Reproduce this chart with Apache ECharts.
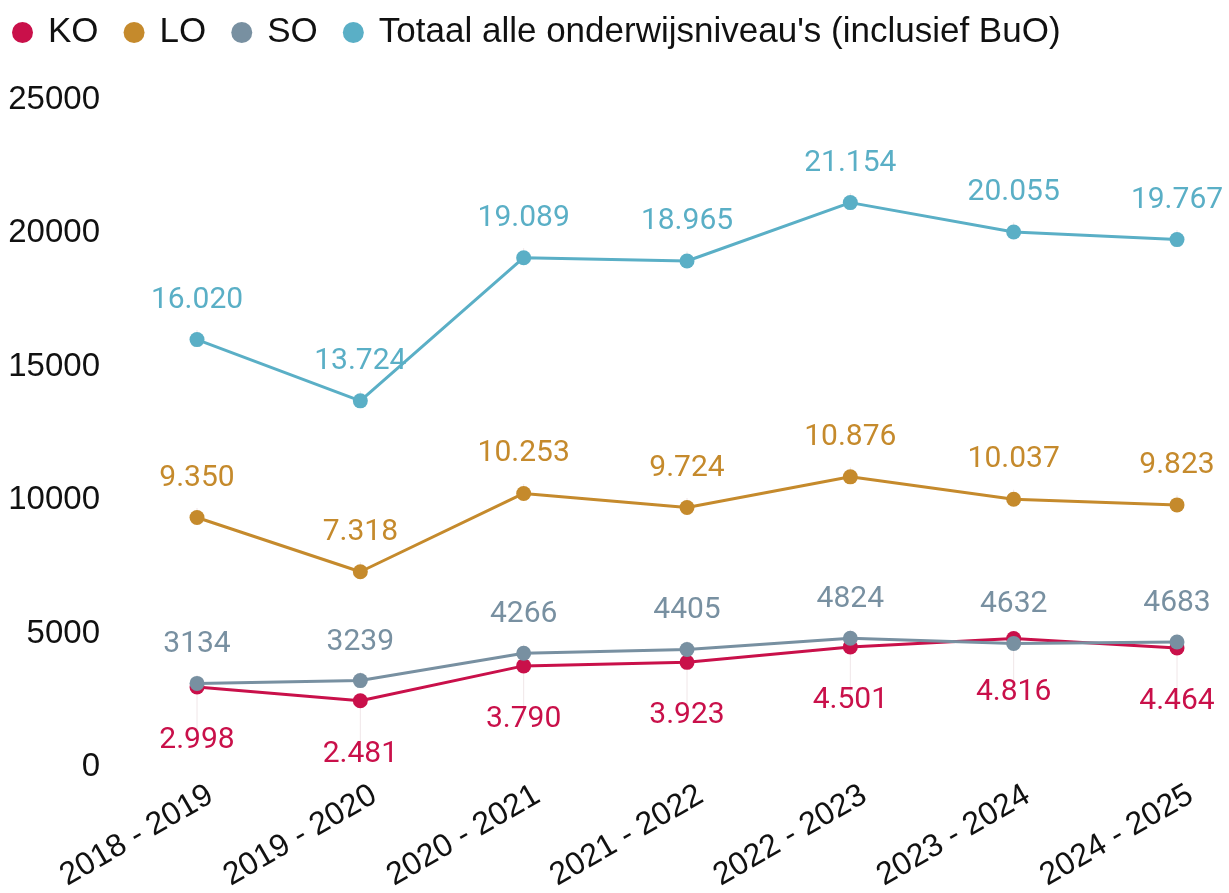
<!DOCTYPE html>
<html>
<head>
<meta charset="utf-8">
<script src="https://cdn.jsdelivr.net/npm/echarts@6/dist/echarts.min.js"></script>
<style>
  html, body { margin: 0; padding: 0; background: #fff; }
  #container { width: 1229px; height: 893px; }
</style>
</head>
<body>
<div id="container"></div>
<script>
var years = ["2018 - 2019", "2019 - 2020", "2020 - 2021", "2021 - 2022", "2022 - 2023", "2023 - 2024", "2024 - 2025"];
var ko = [2998, 2481, 3790, 3923, 4501, 4816, 4464];
var lo = [9350, 7318, 10253, 9724, 10876, 10037, 9823];
var so = [3134, 3239, 4266, 4405, 4824, 4632, 4683];
var totaal = [16020, 13724, 19089, 18965, 21154, 20055, 19767];

var dom = document.getElementById("container");
var myChart = echarts.init(dom);

// dutch thousands separator for the labels, SO has none
function dotted(p) {
  return String(p.value).replace(/\B(?=(\d{3})+(?!\d))/g, ".");
}

function makeSeries(name, data, color, pos, dist, fmt) {
  return {
    name: name,
    type: "line",
    data: data,
    symbol: "circle",
    symbolSize: 15,
    color: color,
    lineStyle: { width: 3 },
    label: {
      show: true,
      position: pos,
      distance: dist,
      color: color,
      fontFamily: "Roboto",
      fontSize: 30,
      formatter: fmt
    },
    labelLine: { show: true, lineStyle: { color: "#f0e6e8", width: 1 } },
    emphasis: { disabled: true },
    animation: false
  };
}

var option = {
  legend: {
    left: 7,
    top: 10,
    itemWidth: 21,
    itemHeight: 21,
    itemGap: 25,
    icon: "circle",
    textStyle: { fontFamily: "Liberation Sans", fontSize: 35, color: "#111", padding: [0, 0, 0, 10] },
    data: ["KO", "LO", "SO", "Totaal alle onderwijsniveau's (inclusief BuO)"]
  },
  grid: { left: 197, right: 52, top: 100, bottom: 126, outerBoundsMode: "none" },
  xAxis: {
    type: "category",
    data: years,
    boundaryGap: false,
    axisLine: { show: false },
    axisTick: { show: false },
    axisLabel: {
      rotate: 30,
      margin: 34,
      padding: [0, -16, 0, 0],
      fontFamily: "Liberation Sans",
      fontSize: 32,
      color: "#111"
    }
  },
  yAxis: {
    type: "value",
    min: 0,
    max: 25000,
    interval: 5000,
    splitLine: { show: false },
    axisLine: { show: false },
    axisTick: { show: false },
    axisLabel: {
      margin: 97,
      formatter: function(v) { return String(v); },
      fontFamily: "Liberation Sans",
      fontSize: 33,
      color: "#111"
    }
  },
  series: [
    makeSeries("KO", ko, "#c9104a", "bottom", 31, dotted),
    makeSeries("LO", lo, "#c58a2c", "top", 17, dotted),
    makeSeries("SO", so, "#7890a1", "top", 16, "{c}"),
    makeSeries("Totaal alle onderwijsniveau's (inclusief BuO)", totaal, "#5aafc6", "top", 17, dotted)
  ]
};

myChart.setOption(option, true);
</script>
</body>
</html>
